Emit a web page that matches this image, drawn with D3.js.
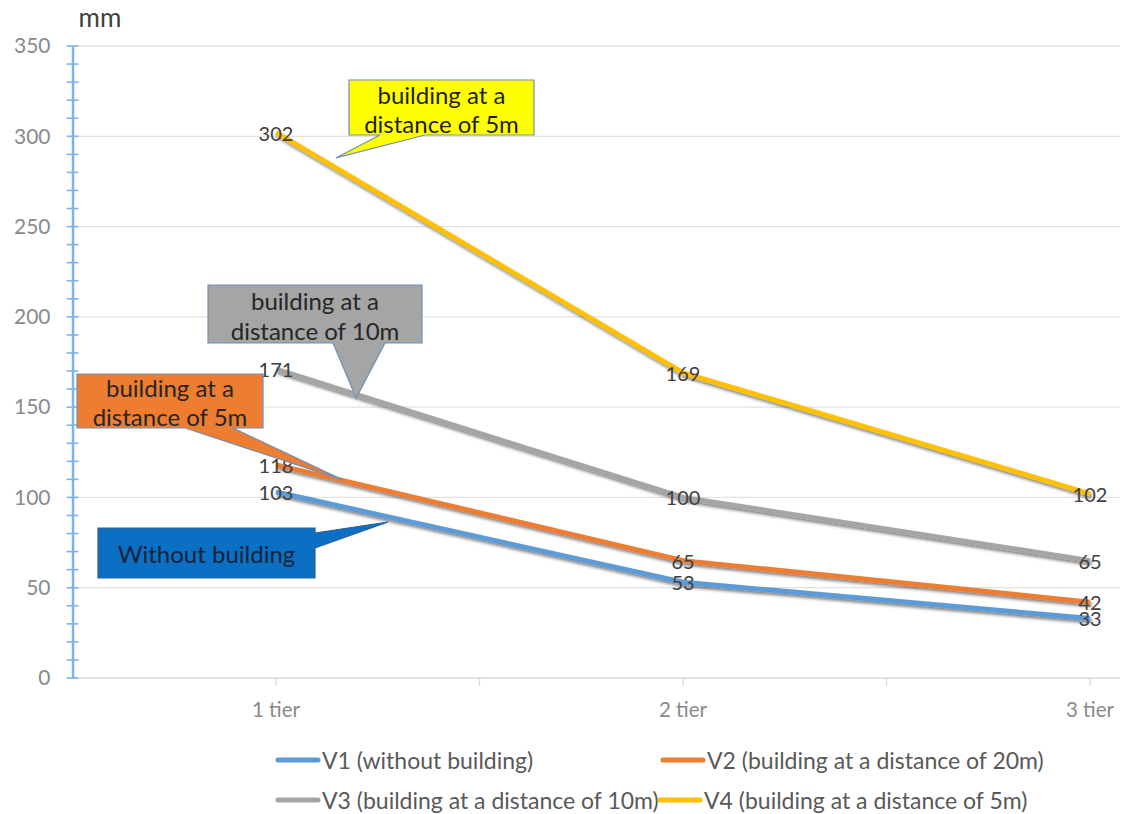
<!DOCTYPE html>
<html><head><meta charset="utf-8">
<script src="https://cdn.jsdelivr.net/npm/d3@7"></script>
<style>body{margin:0;background:#fff}svg{display:block}text{font-family:Lato,"Open Sans",sans-serif}</style>
</head><body><svg id="c" width="1125" height="814"></svg>
<script>
// ---- data ----
const categories = ["1 tier", "2 tier", "3 tier"];
const v1 = [103, 53, 33];
const v2 = [118, 65, 42];
const v3 = [171, 100, 65];
const v4 = [302, 169, 102];
const seriesNames = ["V1 (without building)", "V2 (building at a distance of 20m)", "V3 (building at a distance of 10m)", "V4 (building at a distance of 5m)"];
const yTicks = [0, 50, 100, 150, 200, 250, 300, 350];
const unitLabel = "mm";
const calloutTexts = [["building at a", "distance of 5m"], ["building at a", "distance of 10m"], ["building at a", "distance of 5m"], ["Without building"]];

// ---- styles / layout ----
const colors = ["#5B9BD5", "#ED7D31", "#A5A5A5", "#FFC000"];
const allSeries = [v1, v2, v3, v4];
const svg = d3.select("#c");
const y = d3.scaleLinear().domain([0, 350]).range([678, 46]);
const x = d3.scaleLinear().domain([0, categories.length - 1]).range([276, 1090]);
const step = x(1) - x(0);
const left = x(0) - step / 2, right = 1120;

const defs = svg.append("defs");
const f = defs.append("filter").attr("id", "sh").attr("x", "-10%").attr("y", "-50%").attr("width", "120%").attr("height", "200%");
f.append("feDropShadow").attr("dx", 1.5).attr("dy", 2.5).attr("stdDeviation", 1.5).attr("flood-color", "#000").attr("flood-opacity", 0.5);

// gridlines
svg.append("g").selectAll("line").data(yTicks.filter(d => d > 0)).join("line")
  .attr("x1", left).attr("x2", right).attr("y1", d => y(d)).attr("y2", d => y(d))
  .attr("stroke", "#e2e2e2").attr("stroke-width", 1.3);

// x axis
svg.append("line").attr("x1", left).attr("x2", right).attr("y1", y(0)).attr("y2", y(0)).attr("stroke", "#d9d9d9").attr("stroke-width", 1.3);
const xt = d3.range(0, categories.length - 0.99, 0.5);
svg.append("g").selectAll("line").data(xt).join("line")
  .attr("x1", d => x(d)).attr("x2", d => x(d)).attr("y1", y(0)).attr("y2", y(0) + 8)
  .attr("stroke", "#d9d9d9").attr("stroke-width", 1.3);
svg.append("g").selectAll("text").data(categories).join("text")
  .attr("x", (d, i) => x(i)).attr("y", 712).attr("text-anchor", "middle").attr("dominant-baseline", "middle")
  .attr("font-size", 20.5).attr("fill", "#8a8a8a").text(d => d);

// y axis
const yAxis = d3.axisLeft(y).tickValues(yTicks).tickSize(0).tickPadding(22).tickFormat(d3.format("d"));
const ya = svg.append("g").attr("transform", `translate(${left},0)`).call(yAxis);
ya.select(".domain").attr("stroke", "#7fb3e3").attr("stroke-width", 2.5);
ya.selectAll("text").attr("font-size", 21).attr("fill", "#8a8a8a").attr("font-family", "Lato, sans-serif");
svg.append("g").selectAll("line").data(d3.range(0, 351, 10)).join("line")
  .attr("x1", left - 6).attr("x2", left + 6).attr("y1", d => y(d)).attr("y2", d => y(d))
  .attr("stroke", "#7fb3e3").attr("stroke-width", 1.6);
svg.append("text").attr("x", 100).attr("y", 20).attr("text-anchor", "middle").attr("dominant-baseline", "middle")
  .attr("font-size", 26).attr("fill", "#404040").text(unitLabel);

// lines
const line = d3.line().x((d, i) => x(i)).y(d => y(d));
svg.append("g").selectAll("path").data(allSeries).join("path")
  .attr("d", line).attr("fill", "none").attr("stroke", (d, i) => colors[i]).attr("stroke-width", 5)
  .attr("stroke-linejoin", "round").attr("filter", "url(#sh)");

// data labels
allSeries.forEach((s) => {
  svg.append("g").selectAll("text").data(s).join("text")
    .attr("x", (d, i) => x(i)).attr("y", d => y(d)).attr("text-anchor", "middle").attr("dominant-baseline", "central")
    .attr("font-size", 20).attr("fill", "#404040").text(d => d);
});

// callouts: box [x0,y0,x1,y1], tail base and tip (tip in data space)
function callout(box, base, tipIdx, tipVal, fill, stroke, textColor, lines, lineYs, side) {
  const [x0, y0, x1, y1] = box;
  const tx = x(tipIdx), ty = y(tipVal);
  let p;
  if (side === "bottom") p = `M${x0},${y0}H${x1}V${y1}H${base[1]}L${tx},${ty}L${base[0]},${y1}H${x0}Z`;
  else p = `M${x0},${y0}H${x1}V${base[0]}L${tx},${ty}L${x1},${base[1]}V${y1}H${x0}Z`;
  svg.append("path").attr("d", p).attr("fill", fill).attr("stroke", stroke).attr("stroke-width", 1.2);
  lines.forEach((t, i) => svg.append("text").attr("x", (x0 + x1) / 2).attr("y", lineYs[i])
    .attr("text-anchor", "middle").attr("dominant-baseline", "central").attr("font-size", 24).attr("fill", textColor).text(t));
}
callout([349, 80, 534, 135], [380, 425], 0.147, 288, "#FFFF00", "#6f8fb8", "#1f1f1f", calloutTexts[0], [94, 123], "bottom");
callout([208, 285, 422, 343], [333, 385], 0.197, 155, "#A5A5A5", "#6f8fb8", "#262626", calloutTexts[1], [300, 330], "bottom");
callout([77, 374, 263, 428], [185, 233], 0.165, 109.6, "#ED7D31", "#6f8fb8", "#262626", calloutTexts[2], [387, 416], "bottom");
callout([98, 528, 315, 578], [533, 548], 0.275, 86.4, "#0B6FC3", "#2f5f9a", "#14233a", calloutTexts[3], [553], "right");

// legend
const legendPos = [[278, 760], [663, 760], [278, 800], [660, 800]];
seriesNames.forEach((n, i) => {
  const [lx, ly] = legendPos[i];
  svg.append("line").attr("x1", lx).attr("x2", lx + 40).attr("y1", ly).attr("y2", ly)
    .attr("stroke", colors[i]).attr("stroke-width", 5).attr("stroke-linecap", "round");
  svg.append("text").attr("x", lx + 44).attr("y", ly).attr("dominant-baseline", "central")
    .attr("font-size", 23).attr("fill", "#595959").text(n);
});
</script></body></html>
